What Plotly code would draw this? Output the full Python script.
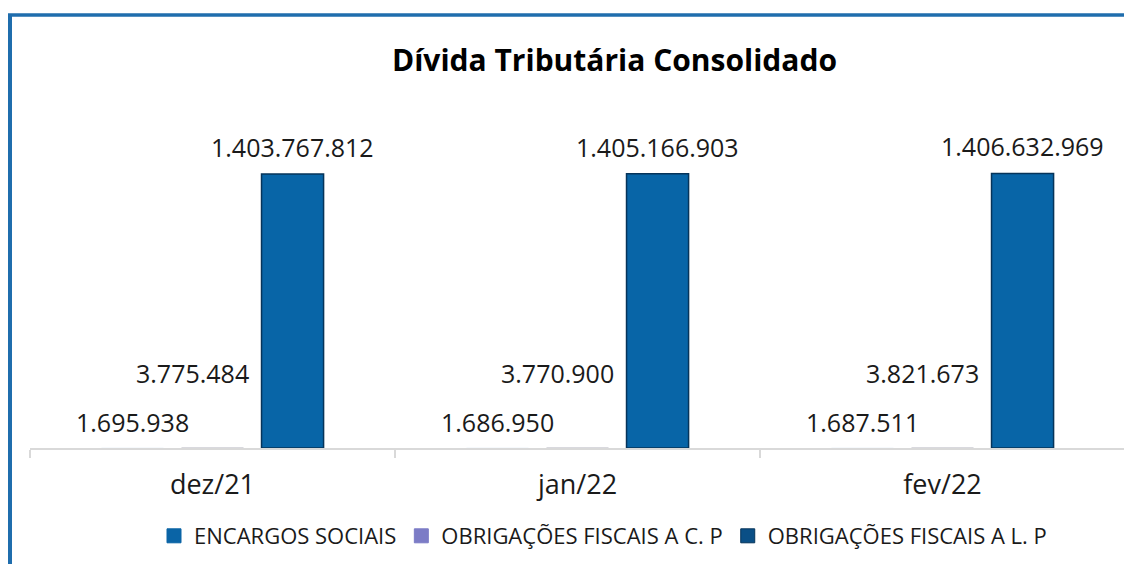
import plotly.graph_objects as go

categories = ["dez/21", "jan/22", "fev/22"]
encargos_sociais = [1695938, 1686950, 1687511]
obrig_cp = [3775484, 3770900, 3821673]
obrig_lp = [1403767812, 1405166903, 1406632969]
series_names = ["ENCARGOS SOCIAIS", "OBRIGAÇÕES FISCAIS A C. P", "OBRIGAÇÕES FISCAIS A L. P"]
title_text = "Dívida Tributária Consolidado"


def fmt(v):
    return f"{v:,}".replace(",", ".")


FONT = "Open Sans"
TXT = "#1a1a1a"
COLORS = ["#0A64A6", "#7C7CC6", "#0A4F86"]

fig = go.Figure()
# bars (tiny values are nearly invisible in the reference)
fig.add_trace(go.Bar(x=categories, y=encargos_sociais, name=series_names[0], showlegend=False,
                     marker=dict(color="rgba(10,100,166,0.15)", line=dict(width=0))))
fig.add_trace(go.Bar(x=categories, y=obrig_cp, name=series_names[1], showlegend=False,
                     marker=dict(color="rgba(170,170,180,0.6)", line=dict(width=0))))
fig.add_trace(go.Bar(x=categories, y=obrig_lp, name=series_names[2], showlegend=False,
                     marker=dict(color="#0865A7", line=dict(color="#06345a", width=1.5))))

# legend entries
for name, col in zip(series_names, COLORS):
    fig.add_trace(go.Scatter(x=[None], y=[None], mode="markers", name=name,
                             marker=dict(symbol="square", size=14, color=col,
                                         line=dict(color="#06345a" if col == COLORS[2] else col, width=1))))

annotations = []
for i, c in enumerate(categories):
    annotations.append(dict(x=c, y=obrig_lp[i], text=fmt(obrig_lp[i]), showarrow=False,
                            xshift=80, yshift=8, yanchor="bottom", xanchor="center",
                            font=dict(family=FONT, size=25, color=TXT)))
    annotations.append(dict(x=c, y=encargos_sociais[i], text=fmt(encargos_sociais[i]), showarrow=False,
                            xshift=-80, yshift=26, yanchor="middle", xanchor="center",
                            font=dict(family=FONT, size=25, color=TXT)))
    annotations.append(dict(x=c, y=obrig_cp[i], text=fmt(obrig_cp[i]), showarrow=False,
                            xshift=38, yshift=74, yanchor="middle", xanchor="right",
                            font=dict(family=FONT, size=25, color=TXT)))

# page body adds an 8px offset; figure coordinates = reference pixels - 8
OFF = 8
W, H = 1132 - OFF, 564 - OFF
L, R, T, B = 30 - OFF, 7, 100 - OFF, 116
pw, ph = W - L - R, H - T - B


def px_x(p):
    return (p - OFF - L) / pw


def px_y(p):
    return (H - B - (p - OFF)) / ph


annotations.append(dict(xref="paper", yref="paper", x=px_x(614), y=px_y(60), text="<b>" + title_text + "</b>",
                        showarrow=False, xanchor="center", yanchor="middle",
                        font=dict(family=FONT, size=30, color="#000000")))

shapes = [
    dict(type="line", xref="paper", yref="paper", x0=px_x(10), x1=px_x(10), y0=px_y(14), y1=px_y(700),
         line=dict(color="#1F6DAD", width=4)),
    dict(type="line", xref="paper", yref="paper", x0=px_x(8), x1=px_x(1300), y0=px_y(15), y1=px_y(15),
         line=dict(color="#1F6DAD", width=3.5)),
]

fig.update_layout(
    width=W, height=H,
    margin=dict(l=L, r=R, t=T, b=B),
    paper_bgcolor="white", plot_bgcolor="white",
    barmode="group", bargap=0.342, bargroupgap=0.225,
    showlegend=True,
    legend=dict(orientation="h", x=px_x(603), xanchor="center", y=px_y(536), yanchor="middle",
                font=dict(family=FONT, size=22, color=TXT), itemwidth=30,
                traceorder="normal"),
    xaxis=dict(showline=True, linecolor="#d9d9d9", linewidth=1.5, ticks="outside",
               tickson="boundaries", ticklen=8, tickcolor="#d9d9d9", tickwidth=1.5,
               ticklabelstandoff=12, layer="above traces",
               tickfont=dict(family=FONT, size=27, color=TXT), showgrid=False, fixedrange=True),
    yaxis=dict(visible=False, range=[0, 1.4038e9 / ((448 - 174) / ph)], showgrid=False, fixedrange=True),
    annotations=annotations,
    shapes=shapes,
)

fig.write_html("out.html")
